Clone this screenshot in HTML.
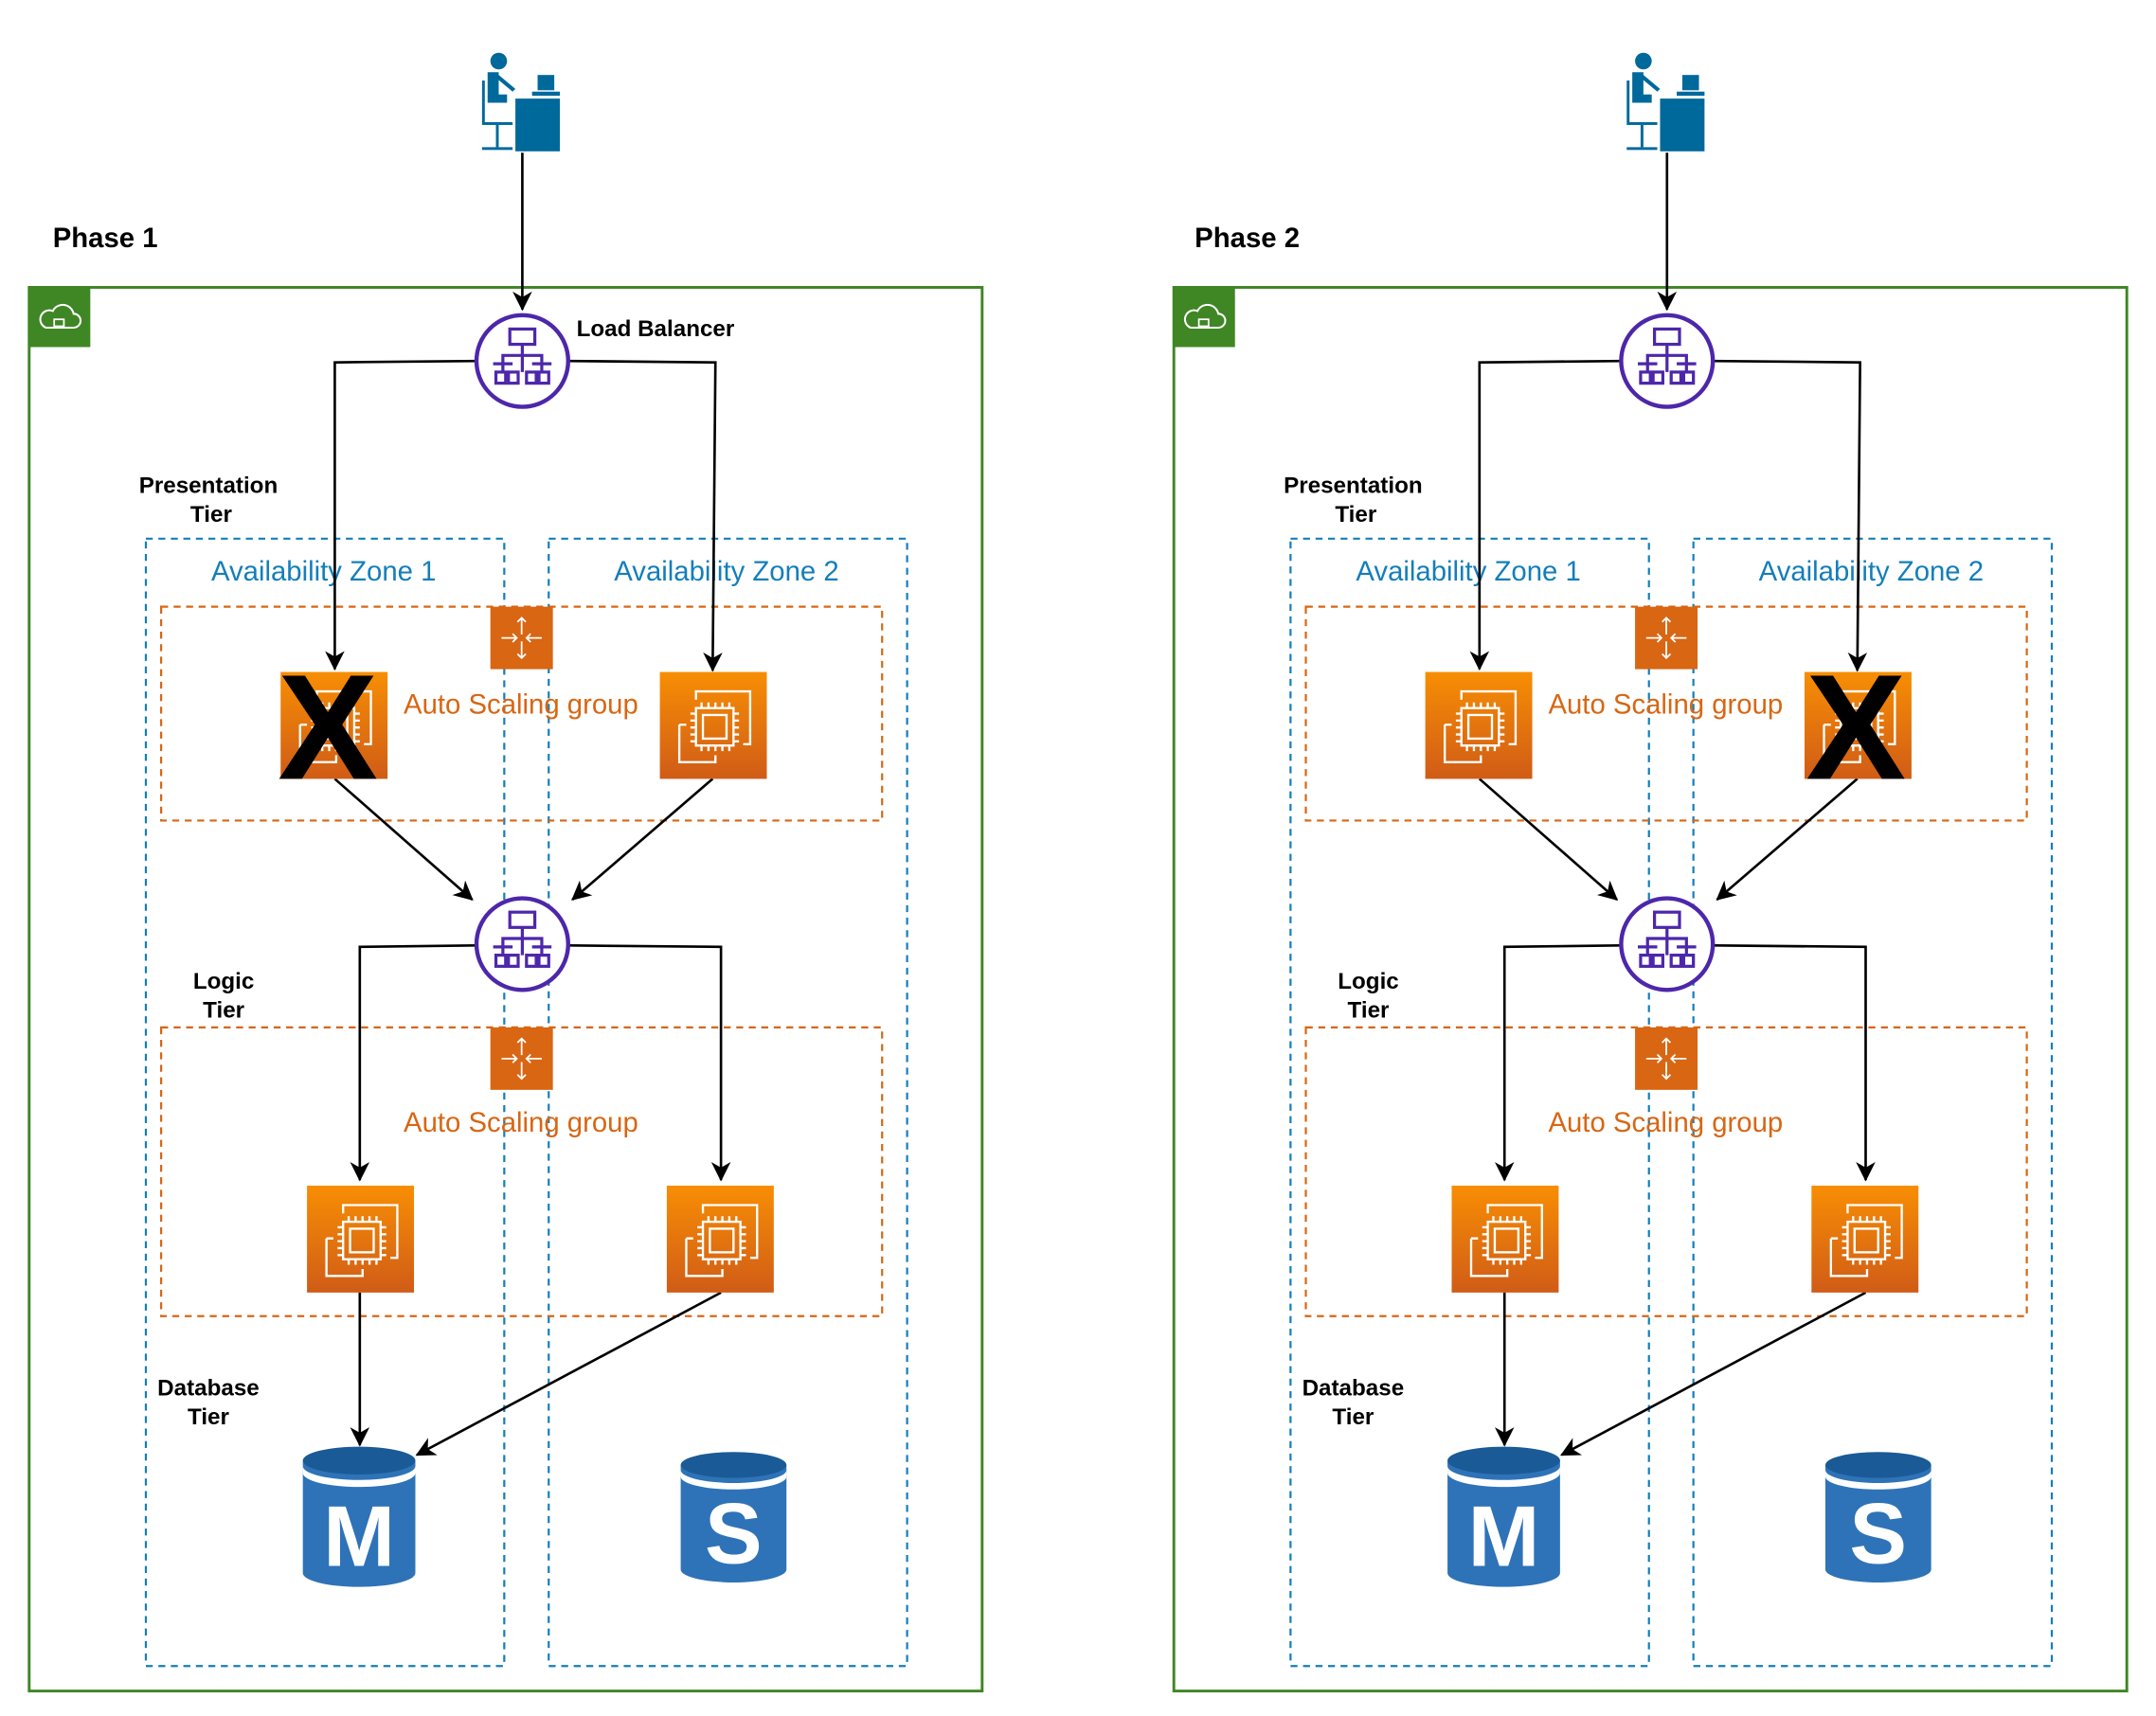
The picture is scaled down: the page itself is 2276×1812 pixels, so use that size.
<!DOCTYPE html>
<html><head><meta charset="utf-8"><style>
html,body{margin:0;padding:0;background:#fff}
svg{display:block}
text{font-family:"Liberation Sans",Arial,sans-serif}
.b{font-weight:bold;font-size:16.5px;fill:#000}
.az{font-size:20px;fill:#147EBA}
.asg{font-size:20px;fill:#D86613}
.x{font-weight:bold;font-size:108px;fill:#000}
</style></head><body>
<svg width="2276" height="1812" viewBox="0 0 1552 1236" preserveAspectRatio="none" xmlns="http://www.w3.org/2000/svg">
<defs>
<marker id="ar" markerWidth="14" markerHeight="14" refX="13" refY="7" orient="auto" markerUnits="userSpaceOnUse">
<path d="M0,0 L14,7 L0,14 L4,7 z" fill="#000"/></marker>
<linearGradient id="og" x1="0" y1="0" x2="0" y2="1"><stop offset="0" stop-color="#F78E04"/><stop offset="1" stop-color="#D05C17"/></linearGradient>
<g id="ec2">
<rect x="0" y="0" width="77" height="77" fill="url(#og)"/>
<g fill="none" stroke="#fff" stroke-width="1.6">
<path d="M14,38 V65 H40 V60 M14,38 H19"/>
<path d="M26,20 V14 H65 V52 H60"/>
<rect x="26" y="26" width="27" height="27"/>
<rect x="31" y="31" width="17" height="17"/>
<path d="M30,26 v-4 M35,26 v-4 M40,26 v-4 M45,26 v-4 M50,26 v-4 M30,53 v4 M35,53 v4 M40,53 v4 M45,53 v4 M50,53 v4 M26,30 h-4 M26,35 h-4 M26,40 h-4 M26,45 h-4 M26,50 h-4 M53,30 h4 M53,35 h4 M53,40 h4 M53,45 h4 M53,50 h4"/>
</g></g>
<g id="lb">
<circle cx="0" cy="0" r="33" fill="#fff" stroke="#4D27AA" stroke-width="3"/>
<g fill="none" stroke="#4D27AA" stroke-width="2.2">
<rect x="-9" y="-23" width="18" height="11"/>
<path d="M0,-12 V-4 M-14,2 V-4 H14 V2 M0,-4 V2 M-21,2 H-7 M7,2 H21 M-14,2 v6 M0,2 v6 M14,2 v6"/>
<rect x="-19" y="8" width="7" height="8"/><rect x="-10" y="8" width="7" height="8"/>
<rect x="3" y="8" width="7" height="8"/><rect x="12" y="8" width="7" height="8"/>
</g></g>
<g id="asgi">
<rect x="0" y="0" width="45" height="45" fill="#D86613"/>
<g fill="none" stroke="#fff" stroke-width="1.2">
<path d="M22.5,8 v12 M19.5,11 l3,-3 l3,3 M22.5,37 v-12 M19.5,34 l3,3 l3,-3 M8,22.5 h11 M16,19.5 l3,3 l-3,3 M37,22.5 h-11 M29,19.5 l-3,3 l3,3"/>
</g></g>
<g id="user" fill="#00699B">
<circle cx="14" cy="6" r="6"/>
<path d="M6,14 h8 v16 h6 v6 h-14 z"/>
<path d="M14,16 l12,10 l-2,2 l-12,-10 z"/>
<rect x="26" y="33" width="32" height="38"/>
<rect x="42" y="16" width="12" height="11"/>
<rect x="38" y="28" width="20" height="3"/>
<rect x="2" y="20" width="2" height="30"/>
<rect x="2" y="50" width="22" height="2"/>
<rect x="12" y="52" width="2" height="16"/>
<rect x="2" y="68" width="22" height="2"/>
</g>
<g id="cyl">
<path d="M0,12 V93 A40.5,10 0 0 0 81,93 V12 z" fill="#2E73B8"/>
<ellipse cx="40.5" cy="12" rx="40.5" ry="10" fill="#1A5A96"/>
<path d="M0,16 A40.5,10 0 0 0 81,16 V21 A40.5,10 0 0 1 0,21 z" fill="#fff"/>
</g>
</defs>

<!-- PANEL 1 -->
<g>
<text x="38" y="178" style="font-weight:bold;font-size:20px">Phase 1</text>
<rect x="21" y="207" width="686" height="1011" fill="none" stroke="#3F8624" stroke-width="2"/>
<rect x="21" y="207" width="44" height="43" fill="#3F8624"/>
<path d="M33,236 h20 a5,5 0 0 0 0,-10 a8,8 0 0 0 -15,-2 a6,6 0 0 0 -5,12 z" fill="none" stroke="#fff" stroke-width="1.4"/>
<rect x="39" y="230" width="7" height="5" fill="none" stroke="#fff" stroke-width="1.2"/>
<use href="#user" x="345" y="38"/>
<rect x="105" y="388" width="258" height="812" fill="none" stroke="#147EBA" stroke-width="1.5" stroke-dasharray="5,4"/>
<rect x="395" y="388" width="258" height="812" fill="none" stroke="#147EBA" stroke-width="1.5" stroke-dasharray="5,4"/>
<text class="az" x="233" y="418" text-anchor="middle">Availability Zone 1</text>
<text class="az" x="523" y="418" text-anchor="middle">Availability Zone 2</text>
<rect x="116" y="437" width="519" height="154" fill="none" stroke="#D86613" stroke-width="1.5" stroke-dasharray="5,4"/>
<rect x="116" y="740" width="519" height="208" fill="none" stroke="#D86613" stroke-width="1.5" stroke-dasharray="5,4"/>
<use href="#asgi" x="353" y="437"/>
<use href="#asgi" x="353" y="740"/>
<text class="asg" x="375" y="514" text-anchor="middle">Auto Scaling group</text>
<text class="asg" x="375" y="815" text-anchor="middle">Auto Scaling group</text>
<text class="b" x="150" y="355" text-anchor="middle">Presentation</text>
<text class="b" x="152" y="376" text-anchor="middle">Tier</text>
<text class="b" x="161" y="712" text-anchor="middle">Logic</text>
<text class="b" x="161" y="733" text-anchor="middle">Tier</text>
<text class="b" x="150" y="1005" text-anchor="middle">Database</text>
<text class="b" x="150" y="1026" text-anchor="middle">Tier</text>
<text class="b" x="415" y="242">Load Balancer</text>
<g fill="none" stroke="#000" stroke-width="1.8" marker-end="url(#ar)">
<path d="M376,110 V223"/>
<path d="M343,260 L241,261 V482"/>
<path d="M409,260 L515,261 L513,483"/>
<path d="M241,561 L340,648"/>
<path d="M513,561 L412,648"/>
<path d="M343,681 L259,682 V850"/>
<path d="M409,681 L519,682 V850"/>
<path d="M259,931 V1041"/>
<path d="M519,931 L300,1048"/>
</g>
<use href="#lb" x="376" y="260"/>
<use href="#lb" x="376" y="680"/>
<use href="#ec2" x="202" y="484"/>
<use href="#ec2" x="475" y="484"/>
<use href="#ec2" x="221" y="854"/>
<use href="#ec2" x="480" y="854"/>
<text class="x" x="236" y="561" text-anchor="middle">X</text>
<use href="#cyl" x="218" y="1040"/>
<text x="258.5" y="1128" text-anchor="middle" style="font-weight:bold;font-size:62px;fill:#fff">M</text>
<g transform="translate(490,1044) scale(0.94,0.93)"><use href="#cyl"/></g>
<text x="528" y="1126" text-anchor="middle" style="font-weight:bold;font-size:62px;fill:#fff">S</text>
</g>

<!-- PANEL 2 -->
<g transform="translate(824,0)">
<text x="36" y="178" style="font-weight:bold;font-size:20px">Phase 2</text>
<rect x="21" y="207" width="686" height="1011" fill="none" stroke="#3F8624" stroke-width="2"/>
<rect x="21" y="207" width="44" height="43" fill="#3F8624"/>
<path d="M33,236 h20 a5,5 0 0 0 0,-10 a8,8 0 0 0 -15,-2 a6,6 0 0 0 -5,12 z" fill="none" stroke="#fff" stroke-width="1.4"/>
<rect x="39" y="230" width="7" height="5" fill="none" stroke="#fff" stroke-width="1.2"/>
<use href="#user" x="345" y="38"/>
<rect x="105" y="388" width="258" height="812" fill="none" stroke="#147EBA" stroke-width="1.5" stroke-dasharray="5,4"/>
<rect x="395" y="388" width="258" height="812" fill="none" stroke="#147EBA" stroke-width="1.5" stroke-dasharray="5,4"/>
<text class="az" x="233" y="418" text-anchor="middle">Availability Zone 1</text>
<text class="az" x="523" y="418" text-anchor="middle">Availability Zone 2</text>
<rect x="116" y="437" width="519" height="154" fill="none" stroke="#D86613" stroke-width="1.5" stroke-dasharray="5,4"/>
<rect x="116" y="740" width="519" height="208" fill="none" stroke="#D86613" stroke-width="1.5" stroke-dasharray="5,4"/>
<use href="#asgi" x="353" y="437"/>
<use href="#asgi" x="353" y="740"/>
<text class="asg" x="375" y="514" text-anchor="middle">Auto Scaling group</text>
<text class="asg" x="375" y="815" text-anchor="middle">Auto Scaling group</text>
<text class="b" x="150" y="355" text-anchor="middle">Presentation</text>
<text class="b" x="152" y="376" text-anchor="middle">Tier</text>
<text class="b" x="161" y="712" text-anchor="middle">Logic</text>
<text class="b" x="161" y="733" text-anchor="middle">Tier</text>
<text class="b" x="150" y="1005" text-anchor="middle">Database</text>
<text class="b" x="150" y="1026" text-anchor="middle">Tier</text>
<g fill="none" stroke="#000" stroke-width="1.8" marker-end="url(#ar)">
<path d="M376,110 V223"/>
<path d="M343,260 L241,261 V482"/>
<path d="M409,260 L515,261 L513,483"/>
<path d="M241,561 L340,648"/>
<path d="M513,561 L412,648"/>
<path d="M343,681 L259,682 V850"/>
<path d="M409,681 L519,682 V850"/>
<path d="M259,931 V1041"/>
<path d="M519,931 L300,1048"/>
</g>
<use href="#lb" x="376" y="260"/>
<use href="#lb" x="376" y="680"/>
<use href="#ec2" x="202" y="484"/>
<use href="#ec2" x="475" y="484"/>
<use href="#ec2" x="221" y="854"/>
<use href="#ec2" x="480" y="854"/>
<text class="x" x="512" y="561" text-anchor="middle">X</text>
<use href="#cyl" x="218" y="1040"/>
<text x="258.5" y="1128" text-anchor="middle" style="font-weight:bold;font-size:62px;fill:#fff">M</text>
<g transform="translate(490,1044) scale(0.94,0.93)"><use href="#cyl"/></g>
<text x="528" y="1126" text-anchor="middle" style="font-weight:bold;font-size:62px;fill:#fff">S</text>
</g>
</svg>
</body></html>
